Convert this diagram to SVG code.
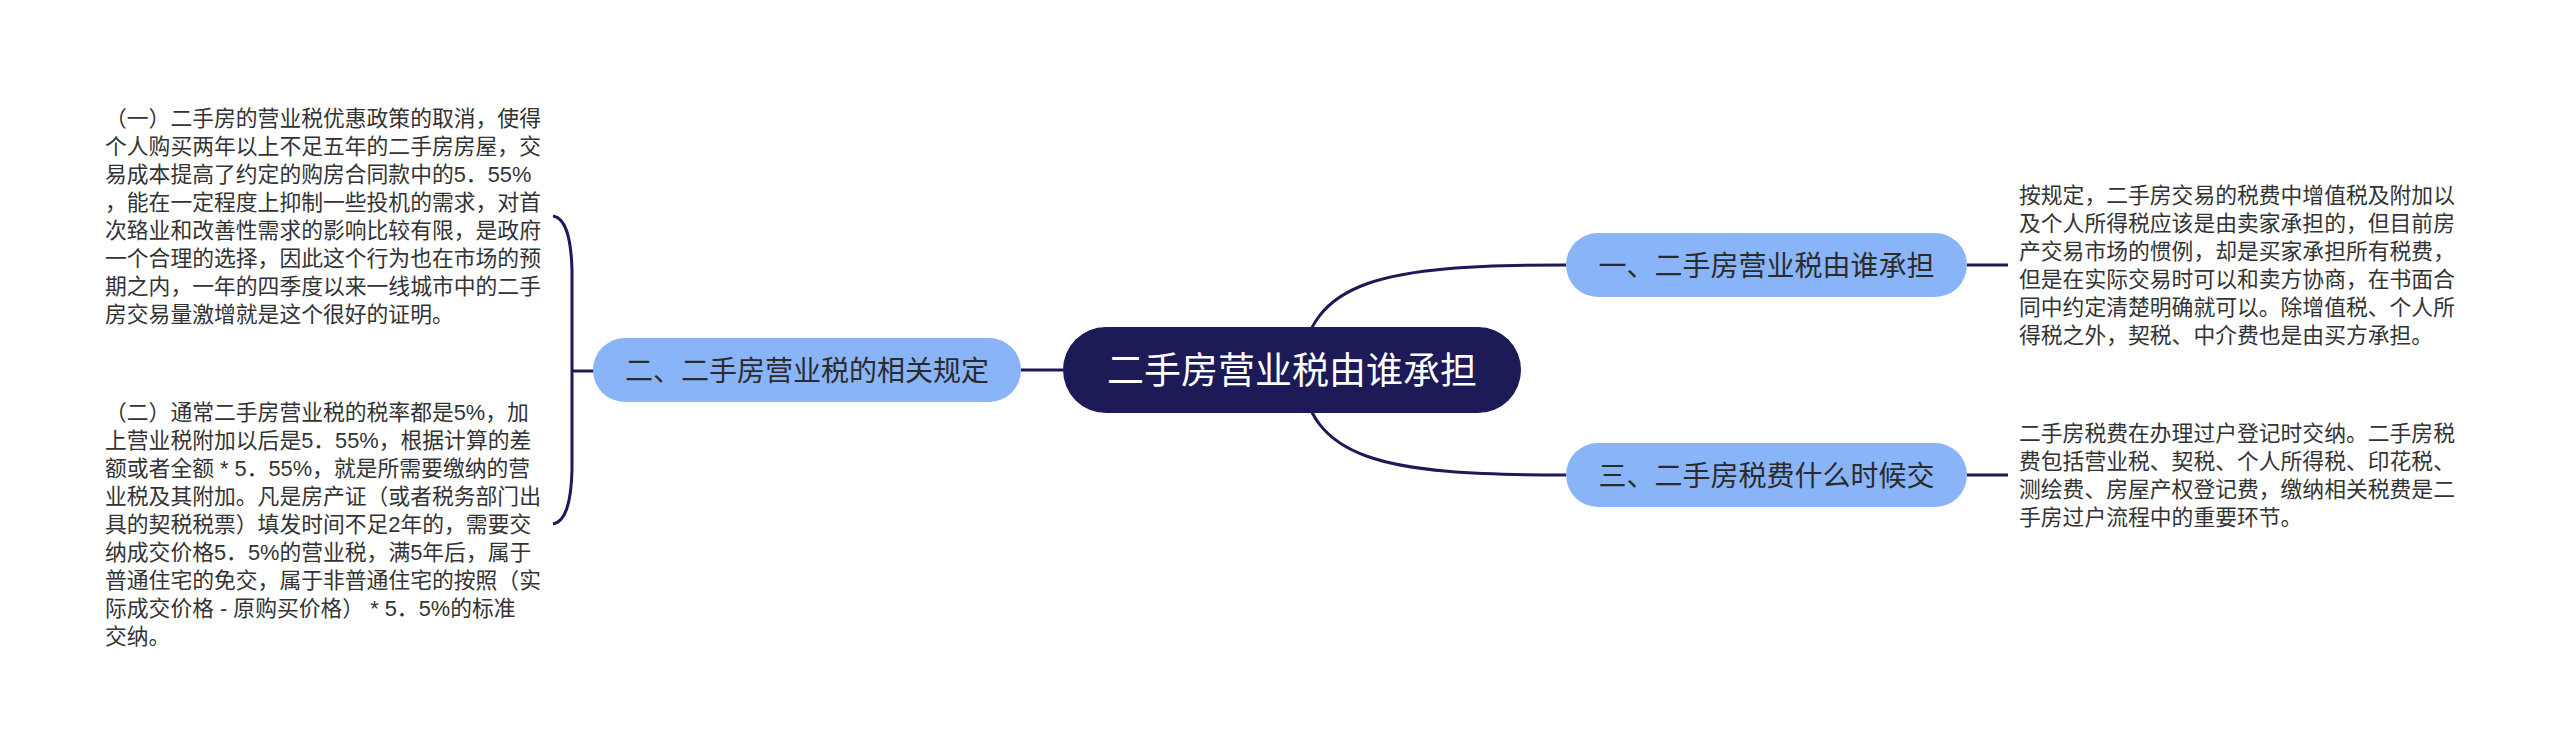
<svg xmlns="http://www.w3.org/2000/svg" width="2560" height="755" viewBox="0 0 2560 755">
<style>
.t{font-family:'Liberation Sans','Noto Sans CJK SC',sans-serif;}
.d{font-size:21.8px;fill:#333333;}
.n{font-size:28px;fill:#2b2b2b;text-anchor:middle;}
.c{font-size:37px;fill:#ffffff;text-anchor:middle;}
.nb{fill:#8ab4f8;}
.ln{fill:none;stroke:#1c1a57;stroke-width:3;}
</style>
<rect width="2560" height="755" fill="#ffffff"/>
<g id="connectors">
<path class="ln" d="M1300,370 C1310,280 1380,265 1566,265"/>
<path class="ln" d="M1300,370 C1310,460 1380,475 1566,475"/>
<path class="ln" d="M1021,370 L1063,370"/>
<path class="ln" d="M572,371 L594,371"/>
<path class="ln" stroke-width="3.5" d="M553,216 C565,218 571,235 572,270 L572,470 C571,505 565,522 553,524"/>
<path class="ln" d="M1967,265 L2008,265"/>
<path class="ln" d="M1967,475 L2008,475"/>
</g>
<g id="root">
<rect x="1063" y="327" width="458" height="86" rx="43" fill="#1c1a57"/>
<text class="t c" x="1292" y="384">二手房营业税由谁承担</text>
</g>
<g id="node-left">
<rect class="nb" x="593" y="338" width="428" height="64" rx="32"/>
<text class="t n" x="807" y="380.6">二、二手房营业税的相关规定</text>
</g>
<g id="node-right-1">
<rect class="nb" x="1566" y="233" width="401" height="64" rx="32"/>
<text class="t n" x="1766.5" y="275.6">一、二手房营业税由谁承担</text>
</g>
<g id="node-right-3">
<rect class="nb" x="1566" y="443" width="401" height="64" rx="32"/>
<text class="t n" x="1766.5" y="485.6">三、二手房税费什么时候交</text>
</g>
<g id="text-left-1">
<text class="t d">
<tspan x="105" y="126.3">（一）二手房的营业税优惠政策的取消，使得</tspan>
<tspan x="105" y="154.3">个人购买两年以上不足五年的二手房房屋，交</tspan>
<tspan x="105" y="182.3">易成本提高了约定的购房合同款中的5．55%</tspan>
<tspan x="105" y="210.3">，能在一定程度上抑制一些投机的需求，对首</tspan>
<tspan x="105" y="238.3">次臵业和改善性需求的影响比较有限，是政府</tspan>
<tspan x="105" y="266.3">一个合理的选择，因此这个行为也在市场的预</tspan>
<tspan x="105" y="294.3">期之内，一年的四季度以来一线城市中的二手</tspan>
<tspan x="105" y="322.3">房交易量激增就是这个很好的证明。</tspan>
</text>
</g>
<g id="text-left-2">
<text class="t d">
<tspan x="105" y="420.3">（二）通常二手房营业税的税率都是5%，加</tspan>
<tspan x="105" y="448.3">上营业税附加以后是5．55%，根据计算的差</tspan>
<tspan x="105" y="476.3">额或者全额 * 5．55%，就是所需要缴纳的营</tspan>
<tspan x="105" y="504.3">业税及其附加。凡是房产证（或者税务部门出</tspan>
<tspan x="105" y="532.3">具的契税税票）填发时间不足2年的，需要交</tspan>
<tspan x="105" y="560.3">纳成交价格5．5%的营业税，满5年后，属于</tspan>
<tspan x="105" y="588.3">普通住宅的免交，属于非普通住宅的按照（实</tspan>
<tspan x="105" y="616.3">际成交价格 - 原购买价格） * 5．5%的标准</tspan>
<tspan x="105" y="644.3">交纳。</tspan>
</text>
</g>
<g id="text-right-1">
<text class="t d">
<tspan x="2019" y="203.3">按规定，二手房交易的税费中增值税及附加以</tspan>
<tspan x="2019" y="231.3">及个人所得税应该是由卖家承担的，但目前房</tspan>
<tspan x="2019" y="259.3">产交易市场的惯例，却是买家承担所有税费，</tspan>
<tspan x="2019" y="287.3">但是在实际交易时可以和卖方协商，在书面合</tspan>
<tspan x="2019" y="315.3">同中约定清楚明确就可以。除增值税、个人所</tspan>
<tspan x="2019" y="343.3">得税之外，契税、中介费也是由买方承担。</tspan>
</text>
</g>
<g id="text-right-3">
<text class="t d">
<tspan x="2019" y="441.3">二手房税费在办理过户登记时交纳。二手房税</tspan>
<tspan x="2019" y="469.3">费包括营业税、契税、个人所得税、印花税、</tspan>
<tspan x="2019" y="497.3">测绘费、房屋产权登记费，缴纳相关税费是二</tspan>
<tspan x="2019" y="525.3">手房过户流程中的重要环节。</tspan>
</text>
</g>
</svg>
